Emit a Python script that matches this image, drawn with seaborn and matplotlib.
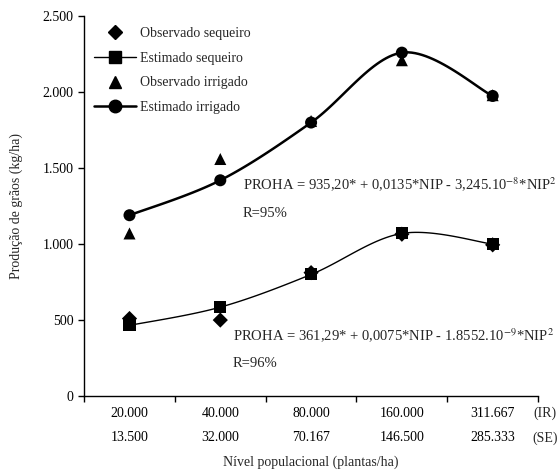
import numpy as np
import pandas as pd
from matplotlib import pyplot as plt
from matplotlib.lines import Line2D
from matplotlib.ticker import FixedLocator, FuncFormatter
import seaborn as sns

# data
niveis_ir = ["20.000", "40.000", "80.000", "160.000", "311.667"]
niveis_se = ["13.500", "32.000", "70.167", "146.500", "285.333"]
obs_sequeiro = [510, 500, 812, 1065, 995]
est_sequeiro = [465, 585, 800, 1070, 1000]
obs_irrigado = [1070, 1560, 1810, 2210, 1980]
est_irrigado = [1190, 1420, 1800, 2260, 1975]

sns.set_theme(style="ticks")
plt.rcParams["font.family"] = ["Liberation Serif", "DejaVu Serif"]
plt.rcParams["mathtext.fontset"] = "stix"


def smooth(x, y, n=30):
    # catmull-rom style smoothing (like a spreadsheet "smoothed line")
    x = np.asarray(x, float)
    y = np.asarray(y, float) / 500.0
    px = np.r_[x[0], x, x[-1]]
    py = np.r_[y[0], y, y[-1]]
    xs, ys = [], []
    for i in range(1, len(px) - 2):
        t = np.linspace(0, 1, n)
        for p, out in ((px, xs), (py, ys)):
            p0, p1, p2, p3 = p[i - 1], p[i], p[i + 1], p[i + 2]
            out.extend(0.5 * ((2 * p1) + (-p0 + p2) * t
                              + (2 * p0 - 5 * p1 + 4 * p2 - p3) * t ** 2
                              + (-p0 + 3 * p1 - 3 * p2 + p3) * t ** 3))
    return np.array(xs), np.array(ys) * 500.0


pos = np.arange(len(niveis_ir))
df = pd.DataFrame({"pos": pos, "obs_seq": obs_sequeiro, "est_seq": est_sequeiro,
                   "obs_irr": obs_irrigado, "est_irr": est_irrigado})

fig = plt.figure(figsize=(5.57, 4.76), dpi=100)
ax = fig.add_axes([0.151, 0.168, 0.815, 0.798])

sx, sy = smooth(pos, est_sequeiro)
ix, iy = smooth(pos, est_irrigado)
sns.lineplot(x=sx, y=sy, sort=False, color="black", lw=1.0, ax=ax)
sns.lineplot(x=ix, y=iy, sort=False, color="black", lw=1.8, ax=ax)

ms = 75
sns.scatterplot(data=df, x="pos", y="obs_seq", marker="D", s=60, color="black", edgecolor="none", ax=ax)
sns.scatterplot(data=df, x="pos", y="est_seq", marker="s", s=ms, color="black", edgecolor="none", ax=ax)
sns.scatterplot(data=df, x="pos", y="obs_irr", marker="^", s=ms, color="black", edgecolor="none", ax=ax)
sns.scatterplot(data=df, x="pos", y="est_irr", marker="o", s=ms, color="black", edgecolor="none", ax=ax)

ax.set_xlim(-0.5, len(pos) - 0.5)
ax.set_ylim(0, 2500)
ax.set_yticks([0, 500, 1000, 1500, 2000, 2500])
ax.yaxis.set_major_formatter(FuncFormatter(lambda v, p: f"{int(v):,}".replace(",", ".")))

ax.xaxis.set_major_locator(FixedLocator(np.arange(-0.5, len(pos), 1.0)))
ax.set_xticklabels([])
ax.xaxis.set_minor_locator(FixedLocator(pos))
ax.set_xticklabels([f"{a}\n{b}" for a, b in zip(niveis_ir, niveis_se)], minor=True,
                   linespacing=2.1)
ax.tick_params(axis="x", which="minor", length=0, pad=8)
ax.tick_params(axis="both", which="major", length=4, width=1, color="black",
               labelsize=10, labelcolor="black")
ax.tick_params(axis="x", which="minor", labelsize=10, labelcolor="black")
for s in ["top", "right"]:
    ax.spines[s].set_visible(False)
for s in ["left", "bottom"]:
    ax.spines[s].set_color("black")
    ax.spines[s].set_linewidth(1)

fig.text(0.978, 1 - 413 / 476, "(IR)", ha="center", va="center", fontsize=10)
fig.text(0.978, 1 - 438 / 476, "(SE)", ha="center", va="center", fontsize=10)

ax.set_xlabel("Nível populacional (plantas/ha)", fontsize=10, labelpad=8)
ax.set_ylabel("Produção de grãos (kg/ha)", fontsize=10, labelpad=14)

ax.text(1.247, 1388, r"PROHA = 935,20* + 0,0135*NIP - 3,245.10$^{-8}$*NIP$^{2}$",
        fontsize=10.5, va="center")
ax.text(1.247, 1204, "R=95%", fontsize=10.5, va="center")
ax.text(1.137, 395, r"PROHA = 361,29* + 0,0075*NIP - 1.8552.10$^{-9}$*NIP$^{2}$",
        fontsize=10.5, va="center")
ax.text(1.137, 211, "R=96%", fontsize=10.5, va="center")

handles = [
    Line2D([], [], ls="none", marker="D", ms=7, color="black"),
    Line2D([], [], ls="-", lw=1.0, marker="s", ms=9, color="black"),
    Line2D([], [], ls="none", marker="^", ms=9, color="black"),
    Line2D([], [], ls="-", lw=1.8, marker="o", ms=9, color="black"),
]
labels = ["Observado sequeiro", "Estimado sequeiro", "Observado irrigado", "Estimado irrigado"]
ax.legend(handles, labels, loc="upper left", bbox_to_anchor=(-0.005, 1.005), frameon=False,
          fontsize=10, handlelength=3.0, handletextpad=0.3, labelspacing=0.85)

fig.savefig("out.png", dpi=100)
